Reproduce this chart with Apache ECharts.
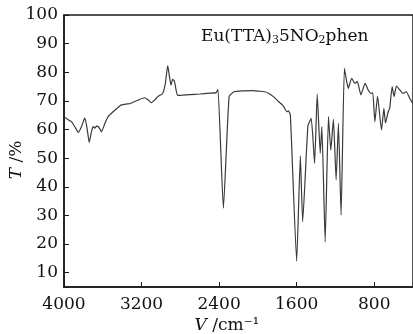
<!DOCTYPE html>
<html>
<head>
  <meta charset="utf-8">
  <script src="https://cdn.jsdelivr.net/npm/echarts@6/dist/echarts.min.js"></script>
  <style type="text/css">
    html,
    body {
      margin: 0;
      background-color: #fff;
    }

    #main {
      width: 413px;
      height: 334px;
    }
  </style>
</head>
<body>
  <div id="main"></div>
  <script type="text/javascript">
    // 波数 (cm-1) 与透过率 (%)
    var waveNumbers = [4000, 3960, 3921, 3880, 3853, 3820, 3785, 3760, 3740, 3715, 3699, 3680, 3665, 3640, 3613, 3580, 3545,
      3494, 3450, 3408, 3360, 3323, 3270, 3221, 3169, 3130, 3101, 3060, 3033, 2982, 2955, 2930, 2910, 2896, 2880, 2862,
      2845, 2828, 2780, 2700, 2600, 2500, 2430, 2412, 2356, 2297, 2246, 2150, 2050, 1990, 1930, 1887, 1840, 1785, 1760,
      1733, 1715, 1700, 1685, 1665, 1600, 1562, 1538, 1484, 1450, 1415, 1388, 1357, 1340, 1306, 1272, 1248, 1221, 1193,
      1169, 1142, 1108, 1085, 1067, 1033, 998, 975, 937, 895, 862, 834, 815, 793, 766, 725, 700, 684, 656, 640, 615,
      595, 571, 536, 503, 469, 434, 400];
    var transmittance = [64.5, 63.5, 62.7, 60.5, 59.0, 61.0, 64.1, 60.0, 55.5, 59.5, 61.0, 60.5, 61.2, 60.8, 59.2, 62.0, 64.5,
      66.2, 67.5, 68.6, 68.9, 69.0, 69.8, 70.5, 71.1, 70.3, 69.4, 70.5, 71.5, 72.6, 76.0, 82.3, 78.0, 75.5, 77.5, 77.0,
      74.0, 71.9, 72.0, 72.2, 72.4, 72.7, 72.9, 74.0, 32.5, 71.5, 73.2, 73.5, 73.6, 73.4, 73.2, 72.6, 71.5, 69.7, 69.0,
      68.0, 66.8, 66.2, 66.5, 65.1, 14.0, 50.8, 27.8, 61.3, 63.9, 48.2, 72.4, 51.7, 61.0, 20.8, 64.5, 52.8, 63.6, 42.4,
      62.2, 30.1, 81.4, 77.0, 74.4, 77.9, 76.1, 76.8, 72.1, 76.1, 73.8, 72.6, 72.8, 62.7, 71.7, 59.8, 67.4, 62.2, 66.2,
      67.5, 75.0, 71.5, 75.2, 73.8, 72.6, 73.2, 70.9, 69.0];
    var xTicks = [4000, 3200, 2400, 1600, 800];
    var yTicks = [10, 20, 30, 40, 50, 60, 70, 80, 90, 100];

    var seriesData = [];
    for (var i = 0; i < waveNumbers.length; i++) {
      seriesData.push([waveNumbers[i], transmittance[i]]);
    }

    var serif = 'DejaVu Serif';
    var myChart = echarts.init(document.getElementById('main'));

    var option = {
      animation: false,
      grid: {
        left: 64,
        right: -2,
        top: 15,
        bottom: 47,
        show: true,
        borderColor: '#1a1a1a',
        borderWidth: 1.5
      },
      xAxis: {
        type: 'value',
        min: 400,
        max: 4000,
        inverse: true,
        axisLine: { lineStyle: { color: '#1a1a1a', width: 1.5 } },
        axisTick: { inside: true, length: 5, customValues: xTicks, lineStyle: { color: '#1a1a1a' } },
        axisLabel: {
          customValues: xTicks, margin: 9, fontFamily: serif, fontSize: 17, color: '#111',
          formatter: function (v) { return String(v); }
        },
        splitLine: { show: false }
      },
      yAxis: {
        type: 'value',
        min: 5,
        max: 100,
        axisLine: { show: true, lineStyle: { color: '#1a1a1a', width: 1.5 } },
        axisTick: { show: true, inside: true, length: 5, customValues: yTicks, lineStyle: { color: '#1a1a1a' } },
        axisLabel: { customValues: yTicks, margin: 6, fontFamily: serif, fontSize: 17, color: '#111' },
        splitLine: { show: false }
      },
      graphic: [{
        type: 'text',
        left: 201,
        top: 25,
        style: {
          text: '{a|Eu(TTA)}{s|3}{a|5NO}{s|2}{a|phen}',
          rich: {
            a: { fontFamily: serif, fontSize: 17, lineHeight: 18, verticalAlign: 'top', fill: '#111' },
            s: { fontFamily: serif, fontSize: 11, lineHeight: 11, padding: [10, 0, 0, 0], verticalAlign: 'bottom', fill: '#111' }
          }
        }
      }, {
        type: 'text',
        x: 17,
        y: 160,
        rotation: Math.PI / 2,
        style: {
          text: '{i|T}{n| /%}',
          align: 'center',
          verticalAlign: 'middle',
          rich: {
            i: { fontFamily: serif, fontStyle: 'italic', fontSize: 17, fill: '#111' },
            n: { fontFamily: serif, fontSize: 17, fill: '#111' }
          }
        }
      }, {
        type: 'text',
        x: 227,
        y: 326,
        style: {
          text: '{i|V}{n| /cm⁻¹}',
          align: 'center',
          verticalAlign: 'middle',
          rich: {
            i: { fontFamily: serif, fontStyle: 'italic', fontSize: 17, fill: '#111' },
            n: { fontFamily: serif, fontSize: 17, fill: '#111' }
          }
        }
      }],
      series: [{
        type: 'line',
        data: seriesData,
        showSymbol: false,
        smooth: 0.15,
        lineStyle: { color: '#3a3a3a', width: 1.2 }
      }]
    };

    myChart.setOption(option);
  </script>
</body>
</html>
